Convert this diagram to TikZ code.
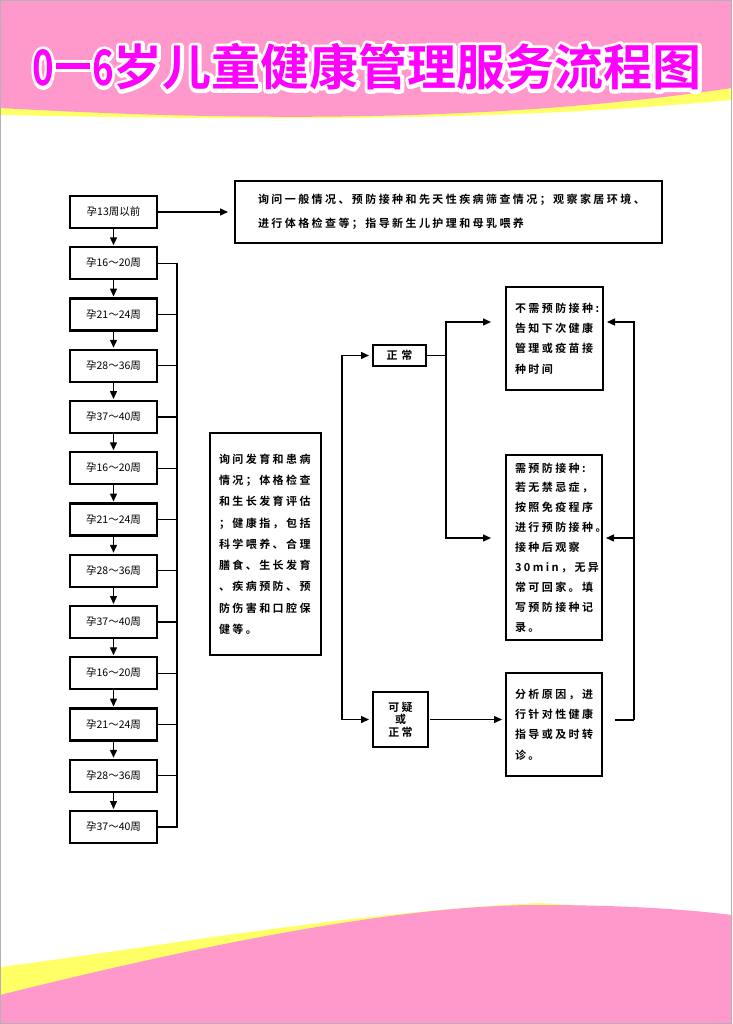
\documentclass[tikz,border=0pt]{standalone}
\usepackage{fontspec}
\usepackage{xcolor}
\usepackage{tikz}
\usetikzlibrary{positioning, calc, arrows.meta}
\newfontfamily\cjk{Noto Sans CJK SC}
\newfontfamily\cjkbold[LetterSpace=22]{Noto Sans CJK SC Bold}
\newfontfamily\titlecjk{Noto Sans CJK SC Bold}
\definecolor{bandpink}{RGB}{255,153,204}
\definecolor{bandyellow}{RGB}{255,255,102}
\definecolor{titlemagenta}{RGB}{255,0,255}
% white outline drawn by stroking the glyphs
\newcommand\strokedtext[1]{\special{pdf:literal direct 7 w 1 j 1 J 2 Tr}#1\special{pdf:literal direct 0 Tr}}
% #1 = extra size of the dash for the outline
\newcommand\titlestring[1]{\scalebox{0.75}[1]{0}\hspace{\dimexpr2pt-#1\relax}\rule[\dimexpr0.35em-#1\relax]{\dimexpr34pt+#1*2\relax}{\dimexpr5.5pt+#1*2\relax}\hspace{\dimexpr2pt-#1\relax}\scalebox{0.75}[1]{6}岁儿童健康管理服务流程图}
\tikzstyle{title.text} = [text=titlemagenta, inner sep=0pt, font={\titlecjk\fontsize{49}{54}\selectfont}]
\tikzstyle{week.box} = [rectangle, draw=black, fill=white, line width=2.4pt, outer sep=0pt, minimum width=87pt, minimum height=32pt, inner sep=0pt, font={\cjk\fontsize{10.5}{12}\selectfont}]
\tikzstyle{note.box} = [rectangle, draw=black, fill=white, line width=2pt, outer sep=0pt, align=left, inner xsep=9pt, inner ysep=0pt, font={\cjkbold\fontsize{11}{20.3}\selectfont}]
\tikzstyle{tag.box} = [rectangle, draw=black, fill=white, line width=2pt, outer sep=0pt, align=center, inner sep=0pt, font={\cjkbold\fontsize{11}{12.5}\selectfont}]
\tikzstyle{flow.line} = [line width=1.4pt, black]
\tikzstyle{flow.arrow} = [flow.line, -{Triangle[length=8pt,width=7pt]}]

\begin{document}
\begin{tikzpicture}[x=1pt, y=-1pt]
\useasboundingbox (0,0) rectangle (732,1024);
% bands top and bottom
\fill[bandyellow] (0,0) -- (732,0) -- (732,100) .. controls (500,122) and (250,120) .. (0,115) -- cycle;
\fill[bandpink] (0,0) -- (732,0) -- (732,88) .. controls (500,122) and (250,122) .. (0,108) -- cycle;
\fill[bandyellow] (0,967) .. controls (150,948) and (350,912) .. (540,903) -- (732,915) -- (732,1024) -- (0,1024) -- cycle;
\fill[bandpink] (0,995) .. controls (200,945) and (400,905) .. (537,905) .. controls (640,905) and (700,911) .. (732,915) -- (732,1024) -- (0,1024) -- cycle;
\draw[gray!60, line width=1pt] (0.5,0.5) rectangle (731.5,1023.5);

% title
\node[title.text, text=white] (title_halo) at (367,67) {\strokedtext{\titlestring{3.5pt}}};
\node[title.text] (title) at (title_halo) {\titlestring{0pt}};

% week column
\node[week.box] (pre13) at (113.5,212) {孕13周以前};
\node[week.box, below=19.25pt of pre13] (w16_20a) {孕16～20周};
\node[week.box, below=19.25pt of w16_20a] (w21_24a) {孕21～24周};
\node[week.box, below=19.25pt of w21_24a] (w28_36a) {孕28～36周};
\node[week.box, below=19.25pt of w28_36a] (w37_40a) {孕37～40周};
\node[week.box, below=19.25pt of w37_40a] (w16_20b) {孕16～20周};
\node[week.box, below=19.25pt of w16_20b] (w21_24b) {孕21～24周};
\node[week.box, below=19.25pt of w21_24b] (w28_36b) {孕28～36周};
\node[week.box, below=19.25pt of w28_36b] (w37_40b) {孕37～40周};
\node[week.box, below=19.25pt of w37_40b] (w16_20c) {孕16～20周};
\node[week.box, below=19.25pt of w16_20c] (w21_24c) {孕21～24周};
\node[week.box, below=19.25pt of w21_24c] (w28_36c) {孕28～36周};
\node[week.box, below=19.25pt of w28_36c] (w37_40c) {孕37～40周};

% notes
\node[note.box, text width=381pt, inner xsep=23pt, minimum height=62pt, font={\cjkbold\fontsize{11}{24}\selectfont}] (info) at (448.5,212)
  {询问一般情况、预防接种和先天性疾病筛查情况；观察家居环境、\\进行体格检查等；指导新生儿护理和母乳喂养};
\node[note.box, text width=93pt, minimum height=222pt, font={\cjkbold\fontsize{11}{21.25}\selectfont}] (growth) at (265.5,544)
  {询问发育和患病\\情况；体格检查\\和生长发育评估\\；健康指，包括\\科学喂养、合理\\膳食、生长发育\\、疾病预防、预\\防伤害和口腔保\\健等。};
\node[tag.box, minimum width=53pt, minimum height=21pt] (normal) at (399.5,355.5) {正\hspace{4pt}常};
\node[tag.box, minimum width=55pt, minimum height=55pt] (doubt) at (400.5,719.5) {可疑\\或\\正常};
\node[note.box, text width=79pt, minimum height=103pt] (nonvacc) at (554.5,338.5)
  {不需预防接种:\\告知下次健康\\管理或疫苗接\\种时间};
\node[note.box, text width=78pt, minimum height=185pt, font={\cjkbold\fontsize{11}{19.9}\selectfont}] (vacc) at (554,547.5)
  {需预防接种:\\若无禁忌症，\\按照免疫程序\\进行预防接种。\\接种后观察\\30min，无异\\常可回家。填\\写预防接种记\\录。};
\node[note.box, text width=78pt, minimum height=103pt] (analyze) at (554,724.5)
  {分析原因，进\\行针对性健康\\指导或及时转\\诊。};

% week flow
\draw[flow.arrow, shorten >=7pt] (pre13) -- (info);
\draw[flow.arrow, shorten >=2pt] (pre13) -- (w16_20a);
\draw[flow.arrow, shorten >=2pt] (w16_20a) -- (w21_24a);
\draw[flow.arrow, shorten >=2pt] (w21_24a) -- (w28_36a);
\draw[flow.arrow, shorten >=2pt] (w28_36a) -- (w37_40a);
\draw[flow.arrow, shorten >=2pt] (w37_40a) -- (w16_20b);
\draw[flow.arrow, shorten >=2pt] (w16_20b) -- (w21_24b);
\draw[flow.arrow, shorten >=2pt] (w21_24b) -- (w28_36b);
\draw[flow.arrow, shorten >=2pt] (w28_36b) -- (w37_40b);
\draw[flow.arrow, shorten >=2pt] (w37_40b) -- (w16_20c);
\draw[flow.arrow, shorten >=2pt] (w16_20c) -- (w21_24c);
\draw[flow.arrow, shorten >=2pt] (w21_24c) -- (w28_36c);
\draw[flow.arrow, shorten >=2pt] (w28_36c) -- (w37_40c);

% bracket
\coordinate (bus_top) at ($(w16_20a.east)+(20,0)$);
\draw[flow.line] (w16_20a.east) -- (bus_top) |- (w37_40c.east);
\draw[flow.line] (w21_24a.east) -- (w21_24a.east -| bus_top);
\draw[flow.line] (w28_36a.east) -- (w28_36a.east -| bus_top);
\draw[flow.line] (w37_40a.east) -- (w37_40a.east -| bus_top);
\draw[flow.line] (w16_20b.east) -- (w16_20b.east -| bus_top);
\draw[flow.line] (w21_24b.east) -- (w21_24b.east -| bus_top);
\draw[flow.line] (w28_36b.east) -- (w28_36b.east -| bus_top);
\draw[flow.line] (w37_40b.east) -- (w37_40b.east -| bus_top);
\draw[flow.line] (w16_20c.east) -- (w16_20c.east -| bus_top);
\draw[flow.line] (w21_24c.east) -- (w21_24c.east -| bus_top);
\draw[flow.line] (w28_36c.east) -- (w28_36c.east -| bus_top);

% result flow
\coordinate (fork) at (342,537);
\draw[flow.arrow, shorten >=4pt] (fork) |- (normal);
\draw[flow.arrow, shorten >=4pt] (fork) |- (doubt);
\coordinate (branch) at ($(normal.east)+(20,0)$);
\draw[flow.line] (normal) -- (branch);
\draw[flow.arrow, shorten >=15pt] (branch) |- ([yshift=16.5pt]nonvacc.west);
\draw[flow.arrow, shorten >=15pt] (branch) |- ([yshift=9.5pt]vacc.west);
\draw[flow.arrow, shorten <=2pt, shorten >=4pt] (doubt.east) -- (doubt.east -| analyze.west);
\coordinate (back) at ($(analyze.east)+(32,-4.5)$);
\draw[flow.line, shorten <=13pt] ([yshift=4.5pt]analyze.east) -- (back);
\draw[flow.arrow, shorten >=4pt] (back) |- ([yshift=16.5pt]nonvacc.east);
\draw[flow.arrow, shorten >=4pt] (back) |- ([yshift=9.5pt]vacc.east);
\end{tikzpicture}
\end{document}
